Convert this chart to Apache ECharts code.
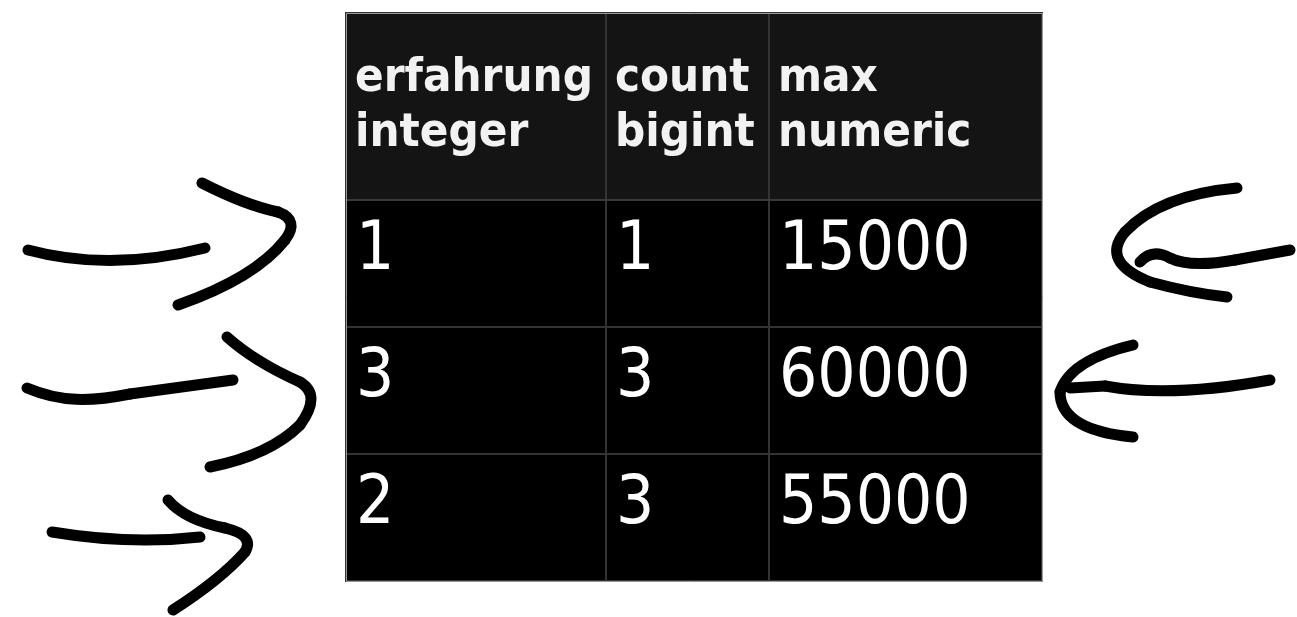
<!DOCTYPE html>
<html>
<head>
<meta charset="utf-8">
<script src="https://cdn.jsdelivr.net/npm/echarts@6/dist/echarts.min.js"></script>
<style>
  html, body { margin: 0; padding: 0; background: #ffffff; }
  #chart { width: 1297px; height: 617px; }
</style>
</head>
<body>
<div id="chart"></div>
<script>
// ---- table data ----
const columnNames = ['erfahrung', 'count', 'max'];
const columnTypes = ['integer', 'bigint', 'numeric'];
const rowIds = ['row1', 'row2', 'row3'];
const erfahrungValues = [1, 3, 2];
const countValues = [1, 3, 3];
const maxValues = [15000, 60000, 55000];

// ---- layout (not data) ----
const COLUMN_WIDTHS = [260, 163, 273];
const HEADER_HEIGHT = 187;

// hand-drawn arrow annotations (decoration, not data marks)
// each segment: 2 points = line, 3 = quadratic curve, 4 = cubic curve
const ARROW_SEGMENTS = [
  // left arrow 1
  [[28,250],[110,272],[205,248]],
  [[202,183],[245,205],[278,212]], [[278,212],[300,220],[285,240]], [[285,240],[255,278],[178,305]],
  // left arrow 2
  [[27,388],[60,402],[90,402],[130,394]], [[130,394],[233,380]],
  [[227,337],[255,362],[300,382]], [[300,382],[322,395],[300,425]], [[300,425],[270,455],[210,467]],
  // left arrow 3
  [[52,532],[130,545],[200,537]],
  [[168,500],[185,520],[225,528]], [[225,528],[255,535],[245,552]], [[245,552],[220,580],[173,610]],
  // right arrow 1
  [[1237,188],[1160,195],[1125,232]], [[1125,232],[1100,262],[1150,282]], [[1150,282],[1190,293],[1227,297]],
  [[1140,262],[1152,248],[1170,258]], [[1170,258],[1190,268],[1235,260]], [[1235,260],[1290,250]],
  // right arrow 2
  [[1133,345],[1070,360],[1060,392]], [[1060,392],[1060,430],[1133,437]],
  [[1070,388],[1105,386]], [[1105,386],[1170,398],[1270,380]]
];

function hasFont(name) {
  const ctx = document.createElement('canvas').getContext('2d');
  const t = 'erfahrung 15000 mmmwwwiii';
  ctx.font = '40px monospace';
  const a = ctx.measureText(t).width;
  ctx.font = '40px "' + name + '", monospace';
  const b = ctx.measureText(t).width;
  return Math.abs(a - b) > 0.5;
}
const condensed = hasFont('DejaVu Sans Condensed');
const FONT = condensed ? 'DejaVu Sans Condensed' : 'DejaVu Sans';
const HEAD_SIZE = condensed ? 47 : 43;
const BODY_SIZE = condensed ? 67 : 61;

const columns = [erfahrungValues, countValues, maxValues];
const headerValues = columnNames.map((n, i) => n + '\n' + columnTypes[i]);

const bodyData = [];
rowIds.forEach((rid, r) => {
  columns.forEach((col, c) => {
    bodyData.push({ coord: [headerValues[c], rid], value: String(col[r]) });
  });
});

const strokeStyle = { stroke: '#000000', lineWidth: 11, lineCap: 'round', lineJoin: 'round', fill: null };
function segmentToGraphic(seg) {
  if (seg.length === 2) {
    return { type: 'line', z: 10, shape: { x1: seg[0][0], y1: seg[0][1], x2: seg[1][0], y2: seg[1][1] }, style: strokeStyle };
  }
  const shape = { x1: seg[0][0], y1: seg[0][1], cpx1: seg[1][0], cpy1: seg[1][1] };
  if (seg.length === 3) {
    shape.x2 = seg[2][0]; shape.y2 = seg[2][1];
  } else {
    shape.cpx2 = seg[2][0]; shape.cpy2 = seg[2][1];
    shape.x2 = seg[3][0]; shape.y2 = seg[3][1];
  }
  return { type: 'bezierCurve', z: 10, shape: shape, style: strokeStyle };
}

const chart = echarts.init(document.getElementById('chart'), null, { renderer: 'canvas' });

const option = {
  backgroundColor: '#ffffff',
  animation: false,
  matrix: {
    left: 346,
    top: 13,
    width: 696,
    height: 568,
    backgroundStyle: { color: '#000000', borderColor: '#9a9a9a', borderWidth: 1 },
    borderZ2: 100,
    x: {
      show: true,
      levelSize: HEADER_HEIGHT,
      data: headerValues.map((v, i) => ({ value: v, size: COLUMN_WIDTHS[i] })),
      itemStyle: { color: '#141414', borderColor: '#333333', borderWidth: 2 },
      dividerLineStyle: { color: '#3a3a3a', width: 2 },
      label: {
        color: '#f2f2f2',
        fontFamily: FONT,
        fontWeight: 'bold',
        fontSize: HEAD_SIZE,
        lineHeight: 55,
        position: 'insideLeft',
        align: 'left',
        distance: 9,
        padding: [4, 0, 0, 0]
      }
    },
    y: {
      show: false,
      data: rowIds
    },
    body: {
      data: bodyData,
      itemStyle: { color: '#000000', borderColor: '#333333', borderWidth: 2 },
      label: {
        color: '#ffffff',
        fontFamily: FONT,
        fontSize: BODY_SIZE,
        lineHeight: BODY_SIZE,
        position: 'insideTopLeft',
        align: 'left',
        verticalAlign: 'top',
        distance: 9,
        padding: [9, 0, 0, 1]
      }
    }
  },
  graphic: ARROW_SEGMENTS.map(segmentToGraphic)
};

chart.setOption(option);
</script>
</body>
</html>
